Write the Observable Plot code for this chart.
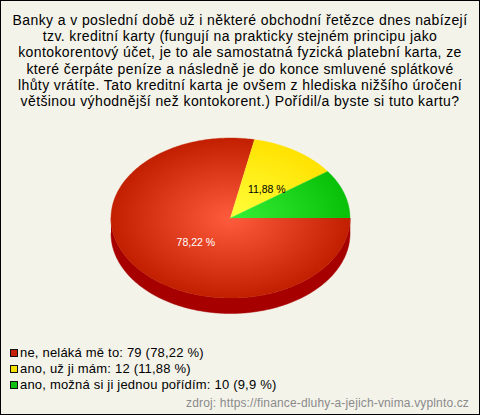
<!DOCTYPE html>
<html>
<head>
<meta charset="utf-8">
<script src="https://cdn.jsdelivr.net/npm/d3@7"></script>
<script src="https://cdn.jsdelivr.net/npm/@observablehq/plot@0.6"></script>
<style>
  html, body { margin: 0; padding: 0; background: #f4f3ea; }
  #chart {
    position: relative; width: 480px; height: 415px; box-sizing: border-box;
    border: 1px solid #000; background: #f4f3ea; overflow: hidden;
    font-family: "Liberation Sans", Arial, sans-serif; color: #000;
  }
  #title {
    position: absolute; top: 11px; left: 0; width: 478px; text-align: center;
    font-size: 14px; line-height: 16.2px; letter-spacing: 0.4px;
  }
  #pie { position: absolute; top: 109px; left: 0; }
  #legend { position: absolute; top: 344px; left: 9px; font-size: 13px; letter-spacing: 0.2px; }
  .row { display: flex; align-items: center; height: 16px; line-height: 16px; white-space: nowrap; }
  .sw { width: 8px; height: 8px; box-sizing: border-box; border: 1px solid #111; margin-right: 2px; }
  #source { position: absolute; right: 10px; top: 395px; font-size: 12px; line-height: 14px; color: #8a8a8a; letter-spacing: 0.15px; }
</style>
</head>
<body>
<div id="chart">
  <div id="title"></div>
  <div id="pie"></div>
  <div id="legend"></div>
  <div id="source"></div>
</div>
<script>
// ---- data ----
const titleLines = [
  "Banky a v poslední době už i některé obchodní řetězce dnes nabízejí",
  "tzv. kreditní karty (fungují na prakticky stejném principu jako",
  "kontokorentový účet, je to ale samostatná fyzická platební karta, ze",
  "které čerpáte peníze a následně je do konce smluvené splátkové",
  "lhůty vrátíte. Tato kreditní karta je ovšem z hlediska nižšího úročení",
  "většinou výhodnější než kontokorent.) Pořídil/a byste si tuto kartu?"
];
const categories = ["ne, neláká mě to", "ano, už ji mám", "ano, možná si ji jednou pořídím"];
const counts = [79, 12, 10];
const percentLabels = ["78,22 %", "11,88 %", "9,9 %"];
const sourceText = "zdroj: https://finance-dluhy-a-jejich-vnima.vyplnto.cz";

// ---- styles ----
const centerColors = ["#ff5c3e", "#ffff3c", "#36f036"];
const edgeColors   = ["#c21f00", "#ffe200", "#08c008"];
const sideColors   = ["#a60000", "#c8a800", "#068a06"];
const swatchColors = ["#c4200a", "#f6e000", "#10c010"];
const labelColors  = ["#ffffff", "#000000", "#000000"];

// ---- text parts ----
document.getElementById("title").innerHTML = titleLines.map(s => `<div>${s}</div>`).join("");
document.getElementById("legend").innerHTML = categories.map((c, i) =>
  `<div class="row"><span class="sw" style="background:${swatchColors[i]}"></span>${c}: ${counts[i]} (${percentLabels[i]})</div>`
).join("");
document.getElementById("source").textContent = sourceText;

// ---- pie geometry (computed from the data) ----
const W = 478, H = 226;
const cx = 229, cy = 107.5, rx = 119.5, ry = 80, depth = 15.5;
const total = d3.sum(counts);
const TAU = 2 * Math.PI;
const topFace = [], sideWall = [], sliceLabels = [];
let cum = 0;
counts.forEach((v, i) => {
  const f0 = cum / total; cum += v; const f1 = cum / total;
  // clockwise from 3 o'clock: math angle = -TAU * f
  const a0 = -TAU * f0, a1 = -TAU * f1;
  const n = Math.max(2, Math.ceil(Math.abs(a1 - a0) / (Math.PI / 180)));
  topFace.push({k: i, x: cx, y: cy, fill: `url(#pg${i})`});
  for (let j = 0; j <= n; j++) {
    const a = a0 + (a1 - a0) * j / n;
    topFace.push({k: i, x: cx + rx * Math.cos(a), y: cy - ry * Math.sin(a), fill: `url(#pg${i})`});
  }
  // visible side wall: part of slice within math angles [PI, 2PI]
  const lo = TAU - TAU * f1, hi = TAU - TAU * f0;
  const s0 = Math.max(lo, Math.PI), s1 = Math.min(hi, TAU);
  if (s1 > s0) {
    const m = Math.max(2, Math.ceil((s1 - s0) / (Math.PI / 180)));
    const pts = [];
    for (let j = 0; j <= m; j++) {
      const a = s0 + (s1 - s0) * j / m;
      pts.push([cx + rx * Math.cos(a), cy - ry * Math.sin(a)]);
    }
    pts.forEach(p => sideWall.push({k: i, x: p[0], y: p[1], fill: sideColors[i]}));
    pts.slice().reverse().forEach(p => sideWall.push({k: i, x: p[0], y: p[1] + depth, fill: sideColors[i]}));
  }
  const am = (a0 + a1) / 2;
  if (v / total >= 0.1) {
    sliceLabels.push({x: cx + 0.45 * rx * Math.cos(am), y: cy - 0.45 * ry * Math.sin(am),
                 text: percentLabels[i], fill: labelColors[i]});
  }
});

const svg = Plot.plot({
  width: W, height: H, margin: 0,
  x: {domain: [0, W], range: [0, W], axis: null},
  y: {domain: [0, H], range: [0, H], axis: null},
  color: {type: "identity"},
  style: {background: "transparent", overflow: "visible"},
  marks: [
    Plot.line(sideWall, {x: "x", y: "y", z: "k", fill: "fill", stroke: "fill", strokeWidth: 0.5, curve: "linear"}),
    Plot.line(topFace, {x: "x", y: "y", z: "k", fill: "fill", stroke: "fill", strokeWidth: 0.4, curve: "linear"}),
    Plot.text(sliceLabels, {x: "x", y: "y", text: "text", fill: "fill", dx: 7, dy: 2,
                       fontSize: 10.5, fontFamily: "Liberation Sans, Arial, sans-serif"})
  ]
});

const defs = document.createElementNS("http://www.w3.org/2000/svg", "defs");
defs.innerHTML = counts.map((v, i) =>
  `<radialGradient id="pg${i}" gradientUnits="userSpaceOnUse" cx="0" cy="0" r="1" gradientTransform="translate(${cx},${cy}) scale(${rx},${ry})">
     <stop offset="0" stop-color="${centerColors[i]}"/>
     <stop offset="1" stop-color="${edgeColors[i]}"/>
   </radialGradient>`).join("");
svg.insertBefore(defs, svg.firstChild);
document.getElementById("pie").appendChild(svg);
</script>
</body>
</html>
